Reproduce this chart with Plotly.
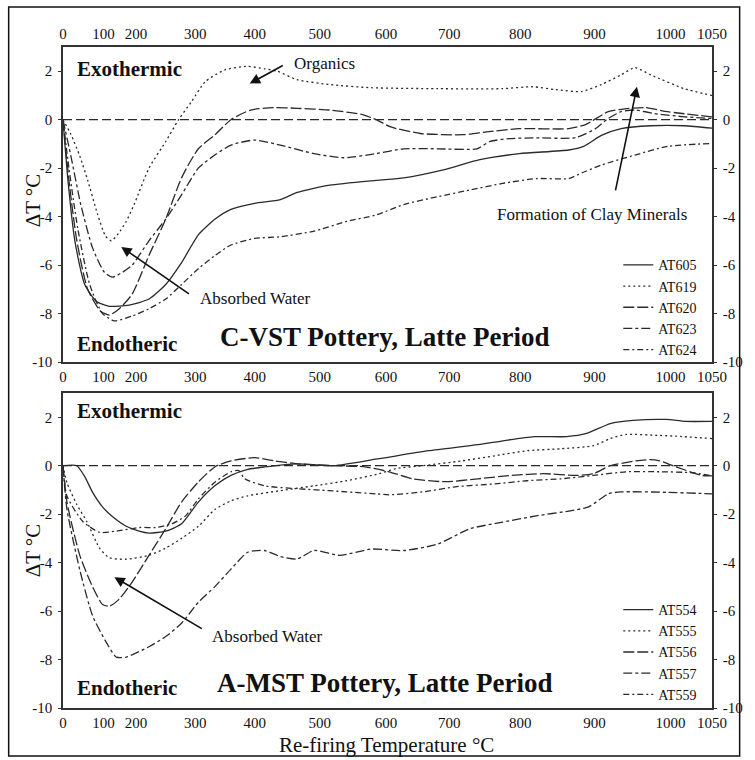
import plotly.graph_objects as go

# ---------------- data ----------------
# The printed temperature scale is non-linear; x values below are positions on
# the chart's linear scale (0..657), with temperature labels placed at TICK_POS.
TICK_POS = [0, 41, 74, 134, 194, 260, 327, 391, 463, 538, 615, 657]
TICK_TEXT = ["0", "100", "200", "300", "400", "500", "600", "700", "800", "900", "1000", "1050"]
Y_TICKS = [2, 0, -2, -4, -6, -8, -10]
Y_RANGE = [-10, 3]
X_RANGE = [0, 657]

# ---- C-VST Pottery (top panel) ----
AT605_x = [0, 5, 12, 22, 34, 47, 67, 87, 104, 120, 137, 154, 170, 194, 220, 237, 270, 317, 345, 385, 422, 462, 512, 527, 545, 565, 595, 629, 657]
AT605_y = [0, -2.5, -5.0, -6.8, -7.5, -7.7, -7.65, -7.4, -6.8, -5.9, -4.75, -4.1, -3.7, -3.45, -3.3, -3.0, -2.7, -2.5, -2.4, -2.07, -1.65, -1.4, -1.25, -1.1, -0.65, -0.37, -0.25, -0.25, -0.35]

AT619_x = [0, 8, 17, 25, 35, 43, 49, 56, 64, 72, 87, 104, 117, 130, 144, 164, 187, 204, 217, 237, 270, 312, 379, 445, 475, 499, 525, 545, 565, 579, 595, 629, 657]
AT619_y = [0, -0.6, -1.5, -2.5, -3.9, -4.8, -5.0, -4.7, -4.2, -3.5, -2.0, -0.9, 0.0, 0.74, 1.57, 2.06, 2.2, 2.1, 2.0, 1.65, 1.45, 1.32, 1.28, 1.28, 1.36, 1.24, 1.16, 1.45, 1.85, 2.15, 1.85, 1.28, 1.0]

AT620_x = [0, 6, 14, 25, 38, 47, 57, 70, 87, 104, 120, 137, 154, 170, 190, 214, 237, 270, 304, 317, 332, 362, 405, 429, 462, 512, 529, 552, 569, 589, 612, 657]
AT620_y = [0, -2.5, -5.0, -7.0, -7.9, -8.06, -7.8, -7.2, -5.6, -4.1, -2.4, -1.2, -0.62, 0.0, 0.4, 0.5, 0.47, 0.4, 0.2, 0.0, -0.3, -0.57, -0.62, -0.5, -0.37, -0.37, -0.2, 0.33, 0.45, 0.5, 0.33, 0.12]

AT623_x = [0, 8, 18, 30, 42, 50, 60, 70, 87, 104, 120, 137, 154, 170, 194, 220, 254, 284, 317, 345, 379, 419, 432, 452, 479, 519, 539, 552, 565, 579, 599, 629, 657]
AT623_y = [0, -1.5, -3.5, -5.3, -6.3, -6.5, -6.3, -6.0, -5.0, -4.1, -3.1, -2.0, -1.45, -1.05, -0.84, -1.05, -1.4, -1.57, -1.4, -1.2, -1.2, -1.2, -0.9, -0.78, -0.75, -0.74, -0.37, 0.05, 0.33, 0.4, 0.25, 0.12, 0.05]

AT624_x = [0, 6, 15, 27, 40, 52, 70, 87, 104, 120, 137, 154, 170, 194, 220, 254, 287, 317, 345, 379, 412, 445, 479, 512, 525, 545, 579, 612, 657]
AT624_y = [0, -2.0, -4.5, -6.8, -8.0, -8.3, -8.1, -7.8, -7.4, -6.8, -6.15, -5.6, -5.17, -4.9, -4.83, -4.6, -4.2, -3.93, -3.5, -3.18, -2.9, -2.63, -2.43, -2.43, -2.2, -1.87, -1.46, -1.1, -0.98]

# ---- A-MST Pottery (bottom panel) ----
AT554_x = [0, 14, 22, 30, 40, 50, 64, 77, 87, 104, 120, 137, 154, 170, 187, 204, 237, 274, 320, 370, 420, 447, 477, 510, 530, 554, 577, 610, 630, 657]
AT554_y = [0, 0, -0.45, -1.1, -1.7, -2.1, -2.5, -2.7, -2.78, -2.7, -2.4, -1.5, -0.82, -0.4, -0.15, -0.05, 0.08, 0.0, 0.29, 0.62, 0.87, 1.04, 1.2, 1.2, 1.33, 1.74, 1.87, 1.91, 1.83, 1.83]

AT555_x = [0, 4, 14, 24, 37, 47, 64, 87, 104, 120, 137, 154, 170, 187, 220, 254, 287, 320, 337, 364, 404, 437, 470, 504, 537, 554, 570, 604, 620, 657]
AT555_y = [0, -0.7, -1.6, -2.3, -3.4, -3.8, -3.86, -3.7, -3.4, -3.0, -2.5, -1.8, -1.45, -1.24, -1.03, -0.83, -0.62, -0.33, -0.12, 0.0, 0.2, 0.41, 0.62, 0.7, 0.83, 1.12, 1.29, 1.25, 1.22, 1.12]

AT556_x = [0, 4, 17, 30, 40, 47, 57, 70, 87, 104, 120, 137, 154, 170, 194, 214, 237, 274, 304, 330, 354, 387, 420, 454, 487, 520, 537, 554, 580, 594, 604, 620, 647, 657]
AT556_y = [0, -1.5, -3.7, -5.0, -5.73, -5.8, -5.5, -4.8, -3.7, -2.6, -1.5, -0.67, -0.04, 0.2, 0.33, 0.2, 0.08, 0.0, -0.04, -0.25, -0.54, -0.66, -0.54, -0.4, -0.33, -0.4, -0.33, 0.0, 0.2, 0.25, 0.2, -0.04, -0.4, -0.42]

AT557_x = [0, 4, 17, 30, 44, 54, 64, 87, 104, 120, 137, 154, 170, 187, 204, 220, 237, 254, 280, 312, 345, 379, 412, 445, 479, 512, 532, 552, 565, 612, 657]
AT557_y = [0, -1.8, -4.3, -6.2, -7.3, -7.9, -7.9, -7.47, -7.05, -6.5, -5.64, -4.98, -4.27, -3.57, -3.5, -3.75, -3.85, -3.5, -3.7, -3.44, -3.5, -3.24, -2.6, -2.33, -2.07, -1.87, -1.7, -1.16, -1.08, -1.1, -1.16]

AT559_x = [0, 4, 20, 37, 54, 77, 94, 110, 124, 137, 154, 170, 178, 184, 204, 237, 270, 287, 317, 330, 364, 397, 437, 470, 504, 537, 570, 604, 637, 657]
AT559_y = [0, -1.25, -2.3, -2.75, -2.7, -2.55, -2.55, -2.4, -2.07, -1.37, -0.67, -0.25, -0.2, -0.54, -0.83, -0.95, -1.03, -1.08, -1.16, -1.2, -1.08, -0.87, -0.75, -0.62, -0.54, -0.4, -0.25, -0.25, -0.29, -0.42]

TOP_SERIES = [("AT605", AT605_x, AT605_y), ("AT619", AT619_x, AT619_y), ("AT620", AT620_x, AT620_y),
              ("AT623", AT623_x, AT623_y), ("AT624", AT624_x, AT624_y)]
BOT_SERIES = [("AT554", AT554_x, AT554_y), ("AT555", AT555_x, AT555_y), ("AT556", AT556_x, AT556_y),
              ("AT557", AT557_x, AT557_y), ("AT559", AT559_x, AT559_y)]

# ---------------- styles ----------------
DASHES = ["solid", "2px,3px", "11px,3px", "9px,3px,3px,3px", "6px,3px,2px,3px"]
LINE_COLOR = "#2a2a2a"
SERIF = "Liberation Serif"
TXT = "#111111"

fig = go.Figure()

for i, (name, xs, ys) in enumerate(TOP_SERIES):
    fig.add_trace(go.Scatter(x=xs, y=ys, name=name, mode="lines", xaxis="x", yaxis="y",
                             line=dict(color=LINE_COLOR, width=1.3, dash=DASHES[i], shape="spline", smoothing=0.6),
                             legend="legend", hoverinfo="skip"))
for i, (name, xs, ys) in enumerate(BOT_SERIES):
    fig.add_trace(go.Scatter(x=xs, y=ys, name=name, mode="lines", xaxis="x2", yaxis="y3",
                             line=dict(color=LINE_COLOR, width=1.3, dash=DASHES[i], shape="spline", smoothing=0.6),
                             legend="legend2", hoverinfo="skip"))

# dummy traces so the overlay axes (top labels / right labels) are rendered
for xa, ya in [("x3", "y"), ("x", "y2"), ("x2", "y4")]:
    fig.add_trace(go.Scatter(x=[None], y=[None], xaxis=xa, yaxis=ya, showlegend=False, hoverinfo="skip"))

TOP_DOM = [0.5234, 1.0]
BOT_DOM = [0.0, 0.4765]

xcommon = dict(range=X_RANGE, tickmode="array", tickvals=TICK_POS, ticktext=TICK_TEXT,
               showgrid=False, zeroline=False, ticks="", showline=True, linecolor="#333", linewidth=1.5,
               tickfont=dict(family=SERIF, size=15, color=TXT))
ycommon = dict(range=Y_RANGE, tickmode="array", tickvals=Y_TICKS, ticktext=[str(v) for v in Y_TICKS],
               showgrid=False, zeroline=False, ticks="outside", ticklen=3, tickcolor="#333",
               showline=True, linecolor="#333", linewidth=1.5, ticklabelstandoff=3,
               tickfont=dict(family=SERIF, size=15, color=TXT))

LEG = dict(xanchor="left", yanchor="top", bgcolor="rgba(0,0,0,0)",
           font=dict(family=SERIF, size=14, color=TXT), itemwidth=30, tracegroupgap=0)

fig.update_layout(
    width=755, height=760, autosize=False,
    margin=dict(l=63, r=35, t=47, b=52),
    paper_bgcolor="white", plot_bgcolor="white",
    xaxis=dict(**xcommon, domain=[0, 1], anchor="y", side="bottom", mirror=True),
    xaxis3=dict(**xcommon, overlaying="x", anchor="y", side="top", matches="x"),
    xaxis2=dict(**xcommon, domain=[0, 1], anchor="y3", side="bottom", mirror=True),
    yaxis=dict(**ycommon, domain=TOP_DOM, anchor="x", side="left", mirror=True),
    yaxis2=dict(**ycommon, overlaying="y", anchor="x", side="right"),
    yaxis3=dict(**ycommon, domain=BOT_DOM, anchor="x2", side="left", mirror=True),
    yaxis4=dict(**ycommon, overlaying="y3", anchor="x2", side="right"),
    legend=dict(x=0.8556, y=0.694, **LEG),
    legend2=dict(x=0.8556, y=0.1725, **LEG),
    showlegend=True,
)

# zero reference lines
for yref, xref in [("y", "x domain"), ("y3", "x2 domain")]:
    fig.add_shape(type="line", xref=xref, yref=yref, x0=0, x1=1, y0=0, y1=0,
                  line=dict(color=LINE_COLOR, width=1.3, dash="9px,4px"), layer="below")

# outer frame
fig.add_shape(type="rect", xref="paper", yref="paper", x0=-0.0837, x1=1.0426, y0=-0.0726, y1=1.0605,
              line=dict(color="#111", width=1.5))

def txt(text, x, y, xref, yref, size, bold=False, xanchor="left"):
    fig.add_annotation(text=f"<b>{text}</b>" if bold else text, x=x, y=y, xref=xref, yref=yref,
                       xanchor=xanchor, yanchor="middle", showarrow=False,
                       font=dict(family=SERIF, size=size, color=TXT))

def arrow(x, y, ax, ay, xref, yref):
    fig.add_annotation(text="", x=x, y=y, ax=ax, ay=ay, xref=xref, yref=yref, axref=xref, ayref=yref,
                       showarrow=True, arrowhead=2, arrowsize=1.3, arrowwidth=1.6, arrowcolor="#111")

# top panel annotations
txt("Exothermic", 12, 2.1, "x", "y", 21, bold=True)
txt("Endotheric", 12, -9.26, "x", "y", 21, bold=True)
txt("C-VST Pottery, Latte Period", 157, -8.97, "x", "y", 27, bold=True)
txt("Organics", 232, 2.31, "x", "y", 17)
txt("Absorbed Water", 137, -7.36, "x", "y", 17)
txt("Formation of Clay Minerals", 437, -3.93, "x", "y", 17)
arrow(189, 1.49, 224, 2.27, "x", "y")
arrow(59, -5.25, 129, -7.23, "x", "y")
arrow(581, 1.36, 559, -2.98, "x", "y")

# bottom panel annotations
txt("Exothermic", 12, 2.24, "x2", "y3", 21, bold=True)
txt("Endotheric", 12, -9.17, "x2", "y3", 21, bold=True)
txt("A-MST Pottery, Latte Period", 154, -8.96, "x2", "y3", 27, bold=True)
txt("Absorbed Water", 149, -7.05, "x2", "y3", 17)
arrow(52, -4.6, 142, -6.76, "x2", "y3")

# axis titles
fig.add_annotation(text="ΔT °C", x=-0.0457, y=0.7685, xref="paper", yref="paper", textangle=-90,
                   showarrow=False, xanchor="center", yanchor="middle", font=dict(family=SERIF, size=21, color=TXT))
fig.add_annotation(text="ΔT °C", x=-0.0457, y=0.239, xref="paper", yref="paper", textangle=-90,
                   showarrow=False, xanchor="center", yanchor="middle", font=dict(family=SERIF, size=21, color=TXT))
fig.add_annotation(text="Re-firing Temperature °C", x=0.4992, y=-0.056, xref="paper", yref="paper",
                   showarrow=False, xanchor="center", yanchor="middle", font=dict(family=SERIF, size=21, color=TXT))

fig.write_html("out.html", config={"displayModeBar": False},
               post_script="document.body.style.margin='0';document.body.style.overflow='hidden';")
